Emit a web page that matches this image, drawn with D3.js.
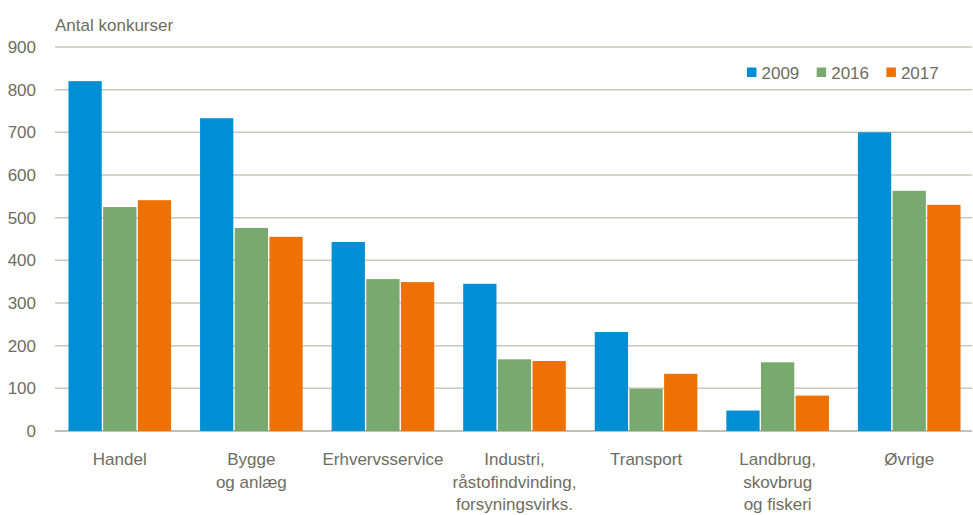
<!DOCTYPE html>
<html>
<head>
<meta charset="utf-8">
<script src="https://cdn.jsdelivr.net/npm/d3@7"></script>
<style>
  body { margin: 0; background: #fff; }
  text { font-family: "Liberation Sans", Arial, sans-serif; fill: #6e6d60; }
</style>
</head>
<body>
<div id="chart"></div>
<script>
// Data (Antal konkurser)
const categories = [
    ["Handel"],
    ["Bygge", "og anlæg"],
    ["Erhvervsservice"],
    ["Industri,", "råstofindvinding,", "forsyningsvirks."],
    ["Transport"],
    ["Landbrug,", "skovbrug", "og fiskeri"],
    ["Øvrige"]
];
const series = ["2009", "2016", "2017"];
const values2009 = [820, 733, 443, 345, 232, 48, 700];
const values2016 = [525, 476, 356, 168, 99, 161, 563];
const values2017 = [541, 455, 349, 164, 134, 83, 530];
const yTicks = [0, 100, 200, 300, 400, 500, 600, 700, 800, 900];

const width = 973, height = 515;
const margin = { top: 47, right: 1, bottom: 84, left: 54 };

const colors = d3.scaleOrdinal()
    .domain(series)
    .range(["#008fd5", "#78a96e", "#ee7203"]);

const seriesValues = { "2009": values2009, "2016": values2016, "2017": values2017 };

const svg = d3.select("#chart").append("svg")
    .attr("width", width)
    .attr("height", height);

const x0 = d3.scaleBand()
    .domain(d3.range(categories.length))
    .range([margin.left, width + 2])
    .paddingInner(0.22)
    .paddingOuter(0.11);

const x1 = d3.scaleBand()
    .domain(series)
    .range([0, x0.bandwidth()])
    .paddingInner(0.04);

const y = d3.scaleLinear()
    .domain([0, 900])
    .range([height - margin.bottom, margin.top]);

// Gridlines
svg.append("g")
    .selectAll("line")
    .data(yTicks)
    .enter().append("line")
    .attr("x1", margin.left + 1)
    .attr("x2", width - 1)
    .attr("y1", d => y(d))
    .attr("y2", d => y(d))
    .attr("stroke", d => d === 0 ? "#aeada0" : "#c9c8bc")
    .attr("stroke-width", 1.5);

// Y axis labels
const yAxis = d3.axisLeft(y).tickValues(yTicks).tickSize(0).tickPadding(0);
const yg = svg.append("g")
    .attr("transform", `translate(36,0)`)
    .call(yAxis);
yg.select(".domain").remove();
yg.selectAll("text")
    .style("font-size", "17px")
    .style("font-family", "Liberation Sans, Arial, sans-serif")
    .attr("fill", "#6e6d60");

svg.append("text")
    .attr("x", 55)
    .attr("y", 31)
    .style("font-size", "17px")
    .text("Antal konkurser");

// Bars
const groups = svg.append("g")
    .selectAll("g")
    .data(categories.map((c, i) => i))
    .enter().append("g")
    .attr("transform", i => `translate(${x0(i)},0)`);

groups.selectAll("rect")
    .data(i => series.map(s => ({ key: s, value: seriesValues[s][i] })))
    .enter().append("rect")
    .attr("x", d => x1(d.key))
    .attr("y", d => y(d.value))
    .attr("width", x1.bandwidth())
    .attr("height", d => y(0) - y(d.value))
    .attr("fill", d => colors(d.key));

// Category labels
const labels = svg.append("g")
    .selectAll("text")
    .data(categories)
    .enter().append("text")
    .attr("x", (d, i) => x0(i) + x0.bandwidth() / 2)
    .attr("y", 465)
    .attr("text-anchor", "middle")
    .style("font-size", "17px");

labels.selectAll("tspan")
    .data(d => d)
    .enter().append("tspan")
    .attr("x", function() { return d3.select(this.parentNode).attr("x"); })
    .attr("dy", (d, i) => i === 0 ? 0 : 22.5)
    .text(d => d);

// Legend
const legend = svg.append("g")
    .attr("transform", "translate(747,0)");

series.forEach((s, i) => {
    legend.append("rect")
        .attr("x", i * 69.7)
        .attr("y", 67.5)
        .attr("width", 9.5)
        .attr("height", 9.5)
        .attr("fill", colors(s));
    legend.append("text")
        .attr("x", i * 69.7 + 14.5)
        .attr("y", 78.5)
        .style("font-size", "17px")
        .text(s);
});
</script>
</body>
</html>
